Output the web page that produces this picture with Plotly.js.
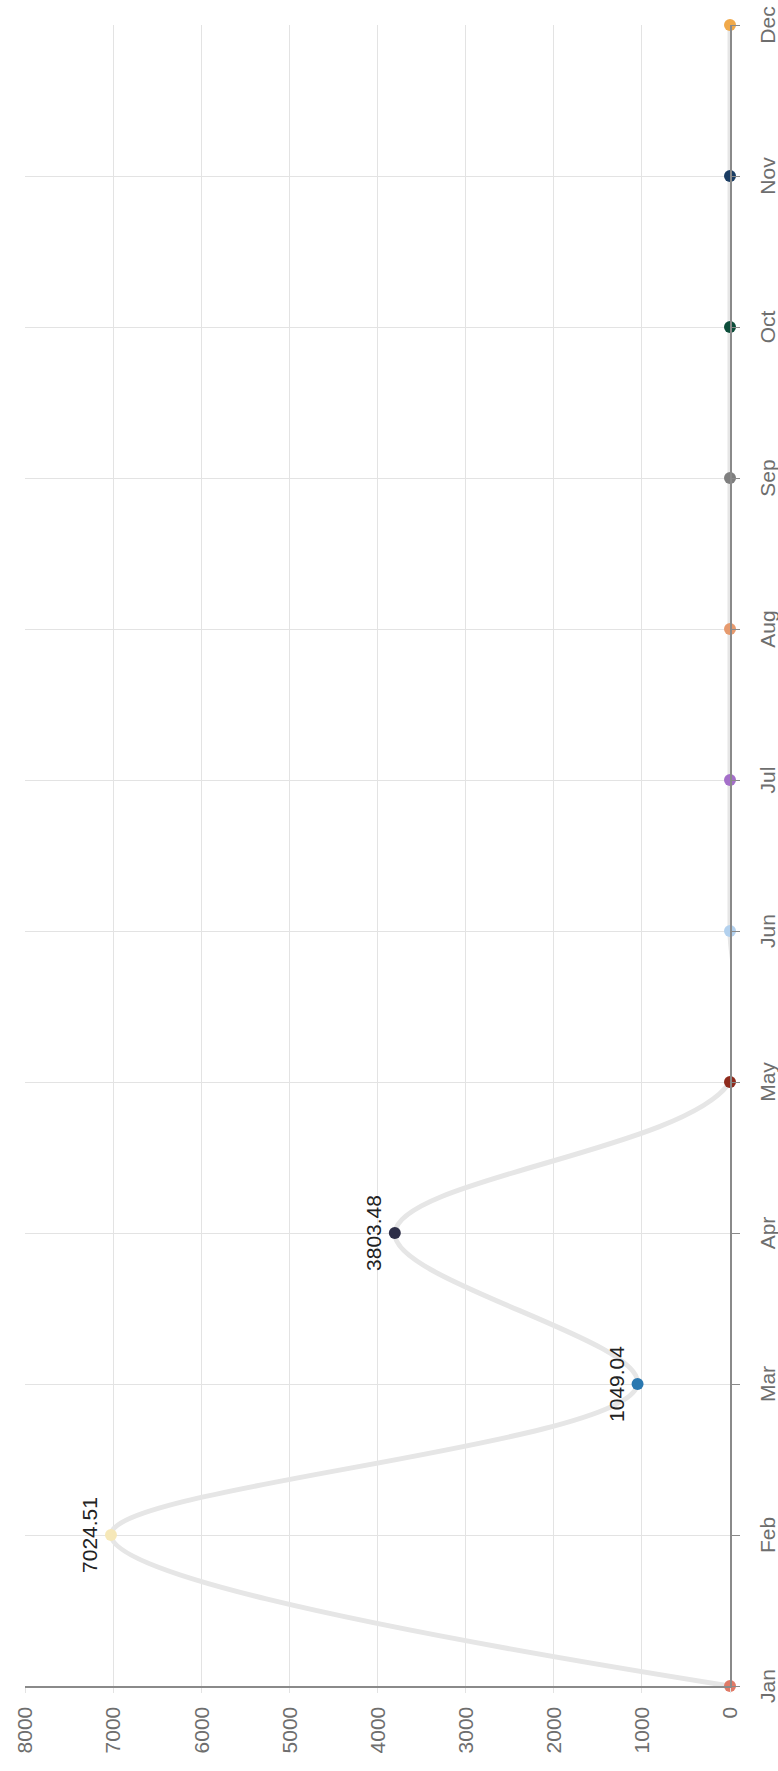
<!DOCTYPE html>
<html>
<head>
<meta charset="utf-8">
<script src="https://cdn.plot.ly/plotly-3.0.1.min.js"></script>
<style>
  html, body { margin: 0; padding: 0; background: #fff; overflow: hidden; width: 778px; height: 1771px; }
  #chart { position: absolute; left: 0; top: 0; width: 1771px; height: 778px;
           transform-origin: 0 0; transform: rotate(-90deg) translate(-1771px, 0); }
</style>
</head>
<body>
<div id="chart"></div>
<script>
const months = ['Jan','Feb','Mar','Apr','May','Jun','Jul','Aug','Sep','Oct','Nov','Dec'];
const values = [0, 7024.51, 1049.04, 3803.48, 0, 0, 0, 0, 0, 0, 0, 0];
const pointColors = ['#e07a66','#f6e8b8','#2a78b0','#2e2f48','#8e2a1c','#b3d1ee',
                     '#a46fc9','#e69a6e','#7f7f7f','#0c4d3a','#1b3d63','#f0a94a'];
const valueTicks = [0, 1000, 2000, 3000, 4000, 5000, 6000, 7000, 8000];

const labels = values.map(v => v > 0 ? v.toFixed(2) : '');

const trace = {
  type: 'scatter',
  mode: 'lines+markers+text',
  x: months,
  y: values,
  text: labels,
  textposition: 'top center',
  textfont: { family: 'Liberation Sans, Arial, sans-serif', size: 21, color: '#222' },
  line: { color: '#e6e6e6', width: 5, shape: 'spline', smoothing: 1 },
  marker: { size: 12, color: pointColors, line: { width: 0 } },
  cliponaxis: false,
  hoverinfo: 'none',
  showlegend: false
};

const layout = {
  width: 1771,
  height: 778,
  margin: { l: 85, r: 25, t: 25, b: 48 },
  paper_bgcolor: '#fff',
  plot_bgcolor: '#fff',
  font: { family: 'Liberation Sans, Arial, sans-serif', size: 21, color: '#666' },
  xaxis: {
    type: 'category',
    categoryarray: months,
    range: [0, 11],
    showgrid: true,
    gridcolor: '#e3e3e3',
    gridwidth: 1,
    showline: true,
    linecolor: '#8a8a8a',
    linewidth: 1.5,
    ticks: 'outside',
    ticklen: 8,
    tickcolor: '#8a8a8a',
    ticklabelstandoff: 10,
    tickfont: { size: 21, color: '#6e6e6e' },
    zeroline: false
  },
  yaxis: {
    range: [0, 8000],
    tickvals: valueTicks,
    showgrid: true,
    gridcolor: '#e3e3e3',
    gridwidth: 1,
    showline: true,
    linecolor: '#8a8a8a',
    linewidth: 1.5,
    ticks: 'outside',
    ticklen: 5,
    tickcolor: '#e3e3e3',
    ticklabelstandoff: 10,
    tickfont: { size: 21, color: '#6e6e6e' },
    zeroline: false
  }
};

Plotly.newPlot('chart', [trace], layout, { staticPlot: true, displayModeBar: false });
</script>
</body>
</html>
